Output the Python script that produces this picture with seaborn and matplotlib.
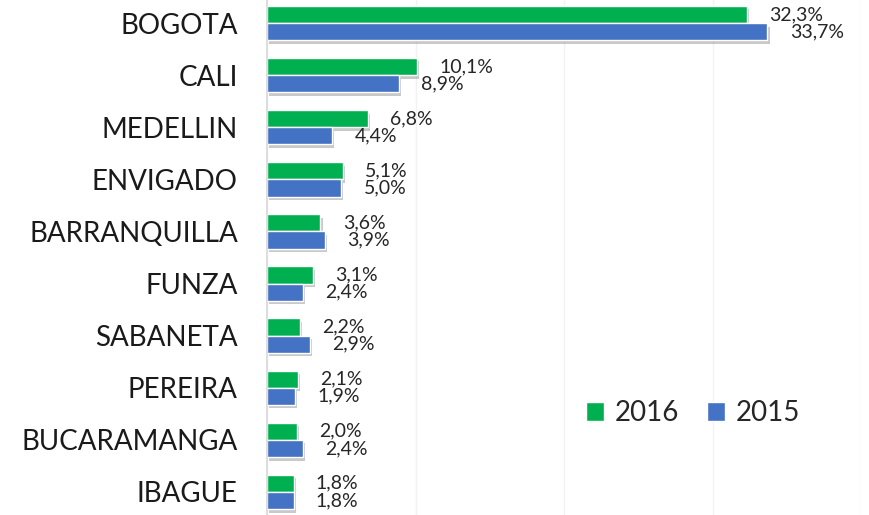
import pandas as pd
import matplotlib.pyplot as plt
import matplotlib.patheffects as pe
import seaborn as sns

# --- Data ---
cities = ["BOGOTA", "CALI", "MEDELLIN", "ENVIGADO", "BARRANQUILLA",
          "FUNZA", "SABANETA", "PEREIRA", "BUCARAMANGA", "IBAGUE"]
share_2016 = [32.3, 10.1, 6.8, 5.1, 3.6, 3.1, 2.2, 2.1, 2.0, 1.8]
share_2015 = [33.7, 8.9, 4.4, 5.0, 3.9, 2.4, 2.9, 1.9, 2.4, 1.8]
years = ["2016", "2015"]
colors = {"2016": "#00B050", "2015": "#4472C4"}

df = pd.DataFrame({
    "Ciudad": cities * 2,
    "Año": ["2016"] * len(cities) + ["2015"] * len(cities),
    "Valor": share_2016 + share_2015,
})

# --- Plot ---
sns.set_theme(style="white")
plt.rcParams["font.family"] = ["Lato", "DejaVu Sans"]

fig = plt.figure(figsize=(8.69, 5.15), dpi=100)
ax = fig.add_axes([267 / 869, -3 / 515, 594 / 869, 521 / 515])

sns.barplot(data=df, y="Ciudad", x="Valor", hue="Año", hue_order=years,
            palette=colors, orient="h", width=0.66, ax=ax, saturation=1)

# soft drop shadow like the original Excel bars
shadow = [pe.SimplePatchShadow(offset=(1.5, -2.5), shadow_rgbFace="#666666", alpha=0.35), pe.Normal()]
for patch in ax.patches:
    patch.set_path_effects(shadow)

for cont in ax.containers:
    ax.bar_label(cont, labels=[f"{v:.1f}%".replace(".", ",") for v in cont.datavalues],
                 padding=16, fontsize=14, color="#262626")

ax.set_xlim(0, 40)
ax.set_xticks([0, 10, 20, 30, 40])
ax.xaxis.grid(True, color="#F2F2F2", linewidth=1)
ax.set_axisbelow(True)
ax.tick_params(axis="x", bottom=False, labelbottom=False)
ax.tick_params(axis="y", left=False, pad=15, labelsize=20, labelcolor="#1a1a1a")
ax.set_xlabel("")
ax.set_ylabel("")
for side in ["top", "right", "bottom"]:
    ax.spines[side].set_visible(False)
ax.spines["left"].set_color("#D9D9D9")

leg = ax.legend(loc="center", bbox_to_anchor=(693 / 869, 1 - 413 / 515),
                bbox_transform=fig.transFigure, ncol=2, frameon=False,
                fontsize=20, handlelength=0.65, handleheight=0.65,
                handletextpad=0.4, columnspacing=1.0)
for h in leg.legend_handles:
    h.set_path_effects([])

fig.savefig("out.png", dpi=100)
